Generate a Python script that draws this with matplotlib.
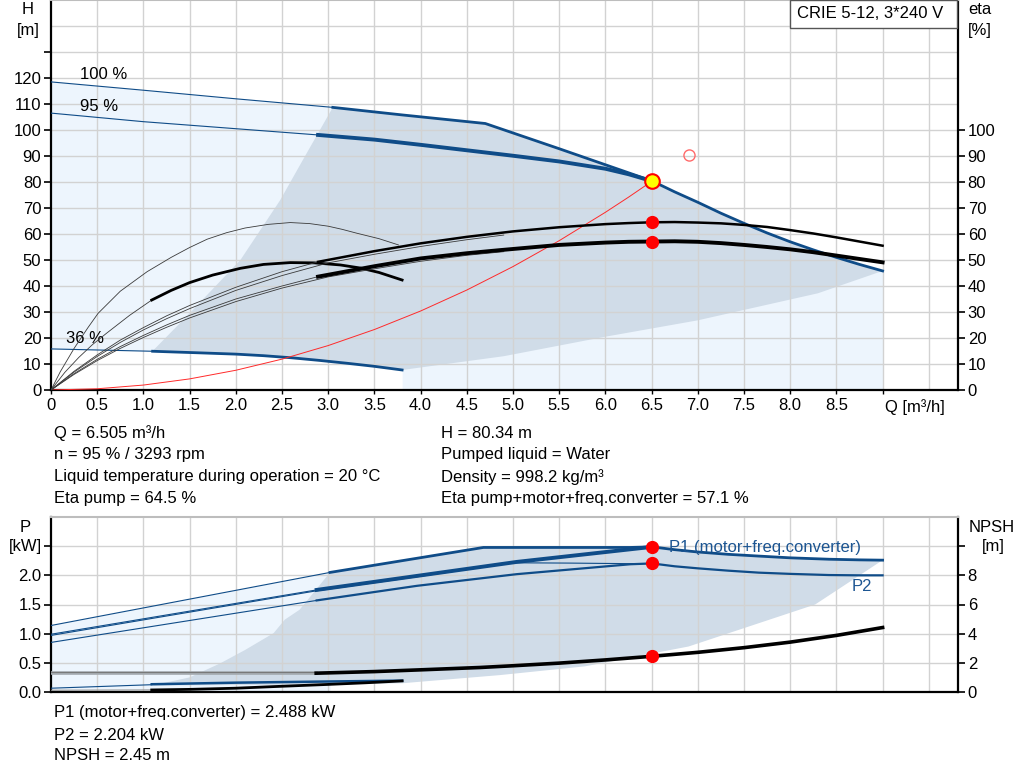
import matplotlib
matplotlib.use("Agg")
import matplotlib.pyplot as plt
from matplotlib.patches import Rectangle
from matplotlib.transforms import blended_transform_factory

plt.rcParams['font.family'] = ['Liberation Sans', 'DejaVu Sans']
FS = 12

# ---------------- data (upper panel: head & efficiency) ----------------
q100_thin = [0.0, 1.0, 2.0, 3.05]
h100_thin = [118.5, 115.3, 112.0, 108.7]
q100 = [3.05, 3.8, 4.7, 5.5, 6.505, 6.75, 7.0, 7.25, 7.5, 7.75, 8.0, 8.25, 8.5, 8.75, 9.0]
h100 = [108.7, 105.8, 102.5, 92.8, 80.4, 76.2, 72.2, 68.0, 64.1, 60.4, 57.0, 53.9, 51.0, 48.3, 45.8]

q95_thin = [0.0, 1.0, 2.0, 2.89]
h95_thin = [106.5, 103.2, 100.5, 98.1]
q95 = [2.89, 3.5, 4.0, 4.5, 5.0, 5.5, 6.0, 6.25, 6.505]
h95 = [98.1, 96.3, 94.3, 92.2, 90.1, 87.9, 85.1, 83.0, 80.34]

q36_thin = [0.0, 1.1]
h36_thin = [15.8, 14.9]
q36 = [1.1, 1.6, 2.0, 2.3, 2.6, 2.9, 3.2, 3.5, 3.8]
h36 = [14.9, 14.3, 13.8, 13.2, 12.4, 11.4, 10.3, 9.1, 7.7]

# shaded regions
q_left_bnd = [3.05, 2.75, 2.48, 2.05, 1.5, 1.1]
h_left_bnd = [108.7, 90.0, 73.0, 50.0, 29.5, 15.0]
q_low_bnd = [3.8, 4.9, 6.0, 7.0, 8.3, 9.0]
h_low_bnd = [7.7, 13.0, 20.5, 26.8, 37.2, 45.8]

# efficiency curves [%]
qe_p95_thin = [0, 0.25, 0.5, 0.75, 1.0, 1.25, 1.5, 2.0, 2.5, 2.89]
e_p95_thin = [0, 7.2, 13.5, 19.2, 24.0, 28.5, 32.5, 39.5, 45.5, 49.3]
qe_p95 = [2.89, 3.5, 4.0, 4.5, 5.0, 5.5, 6.0, 6.25, 6.5, 6.75, 7.0, 7.25, 7.5, 7.75,
          8.0, 8.25, 8.5, 8.75, 9.0]
e_p95 = [49.3, 53.4, 56.4, 58.9, 61.0, 62.6, 63.8, 64.2, 64.5, 64.6, 64.4, 64.1, 63.5,
         62.7, 61.5, 60.2, 58.7, 57.1, 55.5]
qe_p100 = [0, 0.25, 0.5, 0.75, 1.0, 1.25, 1.5, 2.0, 2.5, 3.0, 3.5, 4.0, 4.5, 4.9]
e_p100 = [0, 6.9, 12.9, 18.3, 23.1, 27.4, 31.3, 38.3, 44.0, 48.9, 52.2, 55.2, 57.8, 59.6]

qe_t95_thin = [0, 0.25, 0.5, 0.75, 1.0, 1.25, 1.5, 2.0, 2.5, 2.89]
e_t95_thin = [0, 6.3, 11.8, 16.7, 21.0, 25.0, 28.7, 35.0, 40.0, 43.6]
qe_t95 = [2.89, 3.5, 4.0, 4.5, 4.86, 5.5, 6.0, 6.25, 6.5, 6.75, 7.0, 7.25, 7.5, 7.75,
          8.0, 8.25, 8.5, 8.75, 9.0]
e_t95 = [43.6, 47.6, 50.6, 52.6, 53.8, 55.8, 56.7, 57.0, 57.1, 57.2, 57.0, 56.5, 55.8,
         55.0, 54.1, 53.0, 51.7, 50.4, 49.1]
qe_t100 = [0, 0.25, 0.5, 0.75, 1.0, 1.25, 1.5, 2.0, 2.5, 3.0, 3.5, 4.0, 4.5, 4.9]
e_t100 = [0, 6.0, 11.3, 16.0, 20.2, 24.1, 27.7, 34.0, 39.2, 43.5, 46.6, 49.5, 51.8, 53.2]

qe_p36 = [0, 0.1, 0.25, 0.4, 0.51, 0.75, 1.04, 1.3, 1.5, 1.69, 1.9, 2.1, 2.35, 2.59,
          2.8, 3.0, 3.15, 3.31, 3.55, 3.76]
e_p36 = [0, 7.0, 16.0, 24.0, 29.5, 38.0, 45.5, 51.0, 54.8, 58.0, 60.5, 62.3, 63.7, 64.4,
         64.0, 63.0, 61.8, 60.3, 58.2, 55.8]
qe_t36_thin = [0, 0.15, 0.3, 0.45, 0.6, 0.85, 1.09]
e_t36_thin = [0, 6.8, 12.5, 17.5, 21.8, 28.7, 34.6]
qe_t36 = [1.09, 1.3, 1.5, 1.75, 2.05, 2.3, 2.59, 2.85, 3.13, 3.35, 3.55, 3.8]
e_t36 = [34.6, 38.3, 41.3, 44.2, 46.8, 48.3, 49.0, 48.9, 48.1, 46.9, 45.2, 42.3]

# system curve
q_sys = [0, 0.5, 1.0, 1.5, 2.0, 2.5, 3.0, 3.5, 4.0, 4.5, 5.0, 5.5, 6.0, 6.25, 6.505]
h_sys = [0, 0.47, 1.90, 4.27, 7.59, 11.87, 17.09, 23.26, 30.38, 38.45, 47.47, 57.43,
         68.35, 74.16, 80.34]

# duty point
Q_op, H_op, eta_pump, eta_tot = 6.505, 80.34, 64.5, 57.1
Q_ref, H_ref = 6.91, 90.4

# ---------------- data (lower panel: power & NPSH) ----------------
qp1_100_thin = [0.0, 3.02]
p1_100_thin = [1.14, 2.05]
qp1_100 = [3.02, 4.68, 6.27, 6.505, 6.75, 7.0, 7.33, 7.66, 8.0, 8.42, 8.75, 9.0]
p1_100 = [2.05, 2.478, 2.478, 2.488, 2.44, 2.40, 2.36, 2.33, 2.30, 2.276, 2.265, 2.26]

qp1_95_thin = [0.0, 2.875]
p1_95_thin = [0.99, 1.75]
qp1_95 = [2.875, 3.96, 5.04, 6.12, 6.505]
p1_95 = [1.75, 1.99, 2.23, 2.42, 2.488]

qp2_100 = [0.0, 2.875, 3.96, 5.0, 5.6, 6.27, 6.505]
p2_100 = [0.97, 1.735, 1.975, 2.215, 2.21, 2.20, 2.204]

qp2_95_thin = [0.0, 2.875]
p2_95_thin = [0.85, 1.57]
qp2_95 = [2.875, 3.96, 5.04, 6.27, 6.505, 6.75, 7.0, 7.33, 7.66, 8.0, 8.42, 8.75, 9.0]
p2_95 = [1.57, 1.82, 2.02, 2.19, 2.204, 2.155, 2.12, 2.08, 2.046, 2.025, 2.005, 2.0, 2.0]

qp1_36_thin = [0.0, 1.09]
p1_36_thin = [0.065, 0.125]
qp1_36 = [1.09, 2.0, 3.0, 3.8]
p1_36 = [0.133, 0.16, 0.18, 0.195]

# NPSH [m]
qn_thin = [0.0, 2.87]
n_thin = [1.29, 1.29]
n_thin2 = [1.40, 1.40]
qn = [2.87, 3.5, 4.0, 4.64, 5.0, 5.5, 6.0, 6.505, 7.0, 7.5, 8.0, 8.5, 9.0]
npsh = [1.29, 1.40, 1.52, 1.68, 1.80, 1.98, 2.20, 2.45, 2.72, 3.04, 3.42, 3.88, 4.42]
qn36_thin = [0.0, 1.09]
n36_thin = [0.12, 0.14]
qn36 = [1.09, 1.5, 2.0, 2.41, 3.0, 3.4, 3.8]
n36 = [0.14, 0.18, 0.26, 0.37, 0.52, 0.63, 0.76]

# lower shaded regions
qp_left_bnd = [3.02, 2.84, 2.69, 2.53, 2.41, 2.1, 1.83, 1.5, 1.09]
pp_left_bnd = [2.05, 1.70, 1.41, 1.24, 1.01, 0.72, 0.49, 0.25, 0.11]
qp_low_bnd = [1.09, 2.0, 3.0, 3.8, 4.86, 5.78, 6.9, 8.27, 9.0]
pp_low_bnd = [0.11, 0.12, 0.13, 0.15, 0.29, 0.44, 0.78, 1.50, 2.26]

P1_op, P2_op, NPSH_op = 2.488, 2.204, 2.45

x_ticks = [0, 0.5, 1.0, 1.5, 2.0, 2.5, 3.0, 3.5, 4.0, 4.5, 5.0, 5.5, 6.0, 6.5, 7.0, 7.5, 8.0, 8.5, 9.0]
x_labels = ['0', '0.5', '1.0', '1.5', '2.0', '2.5', '3.0', '3.5', '4.0', '4.5', '5.0', '5.5',
            '6.0', '6.5', '7.0', '7.5', '8.0', '8.5', '']
h_ticks = [0, 10, 20, 30, 40, 50, 60, 70, 80, 90, 100, 110, 120, 130]
h_labels = ['0', '10', '20', '30', '40', '50', '60', '70', '80', '90', '100', '110', '120', '']
eta_ticks = [0, 10, 20, 30, 40, 50, 60, 70, 80, 90, 100]
p_ticks = [0.0, 0.5, 1.0, 1.5, 2.0, 2.5]
p_labels = ['0.0', '0.5', '1.0', '1.5', '2.0', '']
n_ticks = [0, 2, 4, 6, 8, 10]
n_labels = ['0', '2', '4', '6', '8', '']

# ---------------- styling ----------------
BLUE = '#0f4c88'
LIGHT = '#edf5fd'
DARK = '#d0dce8'
GRID = '#d2d2d2'
XMAX = (958 - 51) / 92.4

fig = plt.figure(figsize=(10.24, 7.81), dpi=100)
ax1 = fig.add_axes([51 / 1024, 1 - 390 / 781, (958 - 51) / 1024, 390 / 781])
ax2 = fig.add_axes([51 / 1024, 1 - 692 / 781, (958 - 51) / 1024, 175 / 781])


def frame(ax, ymax, ystep):
    ax.set_xlim(0, XMAX)
    ax.set_ylim(0, ymax)
    for gx in [i * 0.5 for i in range(1, 20)]:
        ax.axvline(gx, color=GRID, lw=1.0, zorder=0.5)
    y = ystep
    while y < ymax - 1e-9:
        ax.axhline(y, color=GRID, lw=1.0, zorder=0.5)
        y += ystep
    for s in ['left', 'right', 'bottom']:
        ax.spines[s].set_linewidth(1.6)
        ax.spines[s].set_color('black')
    ax.spines['top'].set_color('#bdbdbd')
    ax.spines['top'].set_linewidth(1.5)


frame(ax1, 150, 10)
frame(ax2, 3.0, 0.5)

# ---- upper shaded regions
ax1.fill_between(q100_thin + q100[1:], h100_thin + h100[1:], 0, color=LIGHT, lw=0, zorder=0.2)
ax1.fill_between(q36_thin + q36[1:], h36_thin + h36[1:], 0, color='white', lw=0, zorder=0.25)
ax1.fill(q100 + q_low_bnd[::-1] + q36[::-1] + q_left_bnd[::-1],
         h100 + h_low_bnd[::-1] + h36[::-1] + h_left_bnd[::-1],
         color=DARK, lw=0, zorder=0.3)

# ---- upper curves
ax1.plot(q100_thin, h100_thin, color=BLUE, lw=0.8, zorder=3)
ax1.plot(q100, h100, color=BLUE, lw=2.0, zorder=3)
ax1.plot(q95_thin, h95_thin, color=BLUE, lw=0.8, zorder=3)
ax1.plot(q95, h95, color=BLUE, lw=2.8, zorder=3)
ax1.plot(q36_thin, h36_thin, color=BLUE, lw=0.8, zorder=3)
ax1.plot(q36, h36, color=BLUE, lw=2.0, zorder=3)
ax1.plot(q_sys, h_sys, color='#ff2a2a', lw=0.7, zorder=3)

ax1r = ax1.twinx()
ax1r.set_ylim(0, 150)
for s in ax1r.spines.values():
    s.set_visible(False)
thin_c = '#3a3a3a'
ax1r.plot(qe_p36, e_p36, color=thin_c, lw=0.6)
ax1r.plot(qe_t36_thin, e_t36_thin, color=thin_c, lw=0.6)
ax1r.plot(qe_t36, e_t36, color='black', lw=2.0)
ax1r.plot(qe_p95_thin, e_p95_thin, color=thin_c, lw=0.6)
ax1r.plot(qe_p100, e_p100, color=thin_c, lw=0.6)
ax1r.plot(qe_t95_thin, e_t95_thin, color=thin_c, lw=0.6)
ax1r.plot(qe_t100, e_t100, color=thin_c, lw=0.6)
ax1r.plot(qe_p95, e_p95, color='black', lw=1.8)
ax1r.plot(qe_t95, e_t95, color='black', lw=2.8)

ax1r.plot([Q_op], [eta_pump], 'o', color='#ff0000', ms=8.5, zorder=6)
ax1r.plot([Q_op], [eta_tot], 'o', color='#ff0000', ms=8.5, zorder=6)
ax1r.plot([Q_op], [H_op], 'o', mfc='#ffff00', mec='#ff0000', mew=1.5, ms=10.5, zorder=7)
ax1r.plot([Q_ref], [H_ref], 'o', mfc='none', mec='#ff6a6a', mew=1.0, ms=8, zorder=7)

ax1.text(0.31, 121.2, '100 %', fontsize=FS, ha='left', va='center', zorder=5)
ax1.text(0.31, 109.2, '95 %', fontsize=FS, ha='left', va='center', zorder=5)
ax1.text(0.16, 20.0, '36 %', fontsize=FS, ha='left', va='center', zorder=5)

# ticks upper
ax1.set_xticks(x_ticks)
ax1.set_xticklabels(x_labels, fontsize=FS)
ax1.tick_params(axis='x', length=3, width=1, pad=2.5)
ax1.set_yticks(h_ticks)
ax1.set_yticklabels(h_labels, fontsize=FS)
ax1.tick_params(axis='y', direction='out', length=5, width=1.2, pad=2)
ax1r.set_yticks(eta_ticks)
ax1r.set_yticklabels([str(t) for t in eta_ticks], fontsize=FS)
ax1r.tick_params(axis='y', direction='out', length=5, width=1.2, pad=2)
ax1.text(9.03, -0.024, 'Q [m³/h]', fontsize=FS, ha='left', va='top',
         transform=blended_transform_factory(ax1.transData, ax1.transAxes))

# ---- lower shaded regions
ax2.fill_between(qp1_100_thin, p1_100_thin, 0.02, color=LIGHT, lw=0, zorder=0.2)
ax2.fill(qp1_100 + qp_low_bnd[::-1] + qp_left_bnd[::-1],
         p1_100 + pp_low_bnd[::-1] + pp_left_bnd[::-1],
         color=DARK, lw=0, zorder=0.3)

ax2.plot(qp1_100_thin, p1_100_thin, color=BLUE, lw=0.8, zorder=3)
ax2.plot(qp1_100, p1_100, color=BLUE, lw=2.0, zorder=3)
ax2.plot(qp1_95_thin, p1_95_thin, color=BLUE, lw=0.8, zorder=3)
ax2.plot(qp2_100, p2_100, color=BLUE, lw=0.8, zorder=3)
ax2.plot(qp1_95, p1_95, color=BLUE, lw=2.8, zorder=3)
ax2.plot(qp2_95_thin, p2_95_thin, color=BLUE, lw=0.8, zorder=3)
ax2.plot(qp2_95, p2_95, color=BLUE, lw=1.6, zorder=3)
ax2.plot(qp1_36_thin, p1_36_thin, color=BLUE, lw=0.8, zorder=3)
ax2.plot(qp1_36, p1_36, color=BLUE, lw=1.8, zorder=3)

ax2r = ax2.twinx()
ax2r.set_ylim(0, 12)
for s in ax2r.spines.values():
    s.set_visible(False)
ax2r.plot(qn_thin, n_thin, color='#a2a8ad', lw=2.6)
ax2r.plot(qn_thin, n_thin2, color='#707070', lw=0.6)
ax2r.plot(qn36_thin, n36_thin, color='#909090', lw=0.8)
ax2r.plot(qn36, n36, color='black', lw=2.0)
ax2r.plot(qn, npsh, color='black', lw=2.6)
ax2r.plot([Q_op], [NPSH_op], 'o', color='#ff0000', ms=8.5, zorder=6)
ax2.plot([Q_op], [P1_op], 'o', color='#ff0000', ms=8.5, zorder=6)
ax2.plot([Q_op], [P2_op], 'o', color='#ff0000', ms=8.5, zorder=6)

ax2.text(6.69, 2.48, 'P1 (motor+freq.converter)', fontsize=FS, color='#1c5592',
         ha='left', va='center', zorder=5)
ax2.text(8.66, 1.81, 'P2', fontsize=FS, color='#1c5592', ha='left', va='center', zorder=5)

ax2.set_xticks(x_ticks)
ax2.tick_params(axis='x', length=0, labelbottom=False)
ax2.set_yticks(p_ticks)
ax2.set_yticklabels(p_labels, fontsize=FS)
ax2.tick_params(axis='y', direction='out', length=5, width=1.2, pad=2)
ax2r.set_yticks(n_ticks)
ax2r.set_yticklabels(n_labels, fontsize=FS)
ax2r.tick_params(axis='y', direction='out', length=5, width=1.2, pad=2)


# ---- axis titles
def ftext(x, y, s, **kw):
    fig.text(x / 1024, 1 - y / 781, s, fontsize=FS, ha='center', va='center', **kw)


ftext(27.5, 10, 'H')
ftext(28, 30, '[m]')
ftext(980, 10, 'eta')
ftext(980, 30, '[%]')
ftext(25, 527, 'P')
ftext(25, 547, '[kW]')
ftext(992, 527, 'NPSH')
ftext(993, 547, '[m]')

# title box
fig.patches.append(Rectangle((790 / 1024, 1 - 28 / 781), (957 - 790) / 1024, 28 / 781,
                             transform=fig.transFigure, fill=True, facecolor='white',
                             edgecolor='#555555', lw=1.0, zorder=10))
fig.text(870 / 1024, 1 - 14 / 781, 'CRIE 5-12, 3*240 V', fontsize=FS, ha='center',
         va='center', zorder=11)

# info text
left_col = ['Q = 6.505 m³/h', 'n = 95 % / 3293 rpm',
            'Liquid temperature during operation = 20 °C', 'Eta pump = 64.5 %']
right_col = ['H = 80.34 m', 'Pumped liquid = Water', 'Density = 998.2 kg/m³',
             'Eta pump+motor+freq.converter = 57.1 %']
bottom_col = ['P1 (motor+freq.converter) = 2.488 kW', 'P2 = 2.204 kW', 'NPSH = 2.45 m']
ys = [433, 455, 477, 498]
for s, y in zip(left_col, ys):
    fig.text(54 / 1024, 1 - y / 781, s, fontsize=FS, ha='left', va='center')
for s, y in zip(right_col, ys):
    fig.text(441 / 1024, 1 - y / 781, s, fontsize=FS, ha='left', va='center')
for s, y in zip(bottom_col, [713, 735, 756]):
    fig.text(54 / 1024, 1 - y / 781, s, fontsize=FS, ha='left', va='center')

fig.savefig('out.png', dpi=100)
